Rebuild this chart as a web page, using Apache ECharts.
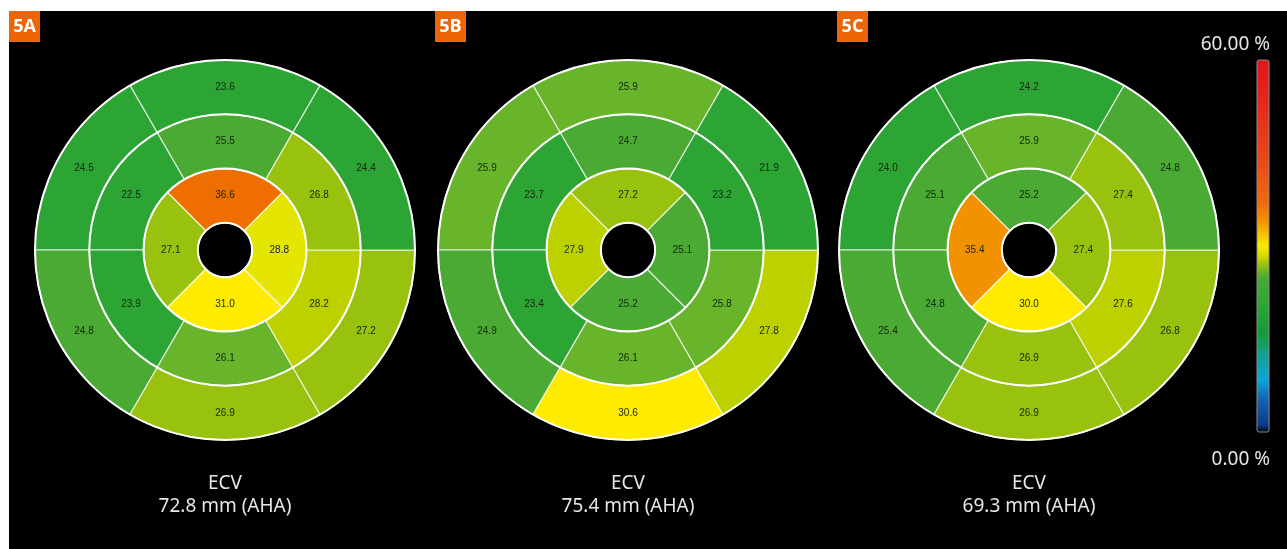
<!DOCTYPE html>
<html>
<head>
<meta charset="utf-8">
<title>ECV bullseye maps</title>
<script src="https://cdn.jsdelivr.net/npm/echarts@6/dist/echarts.min.js"></script>
<style>
  html, body { margin: 0; padding: 0; background: #fff; width: 1287px; height: 549px; overflow: hidden; }
  #chart { position: absolute; left: 9px; top: 11px; width: 1278px; height: 538px; background: #000; }
</style>
</head>
<body>
<div id="chart"></div>
<script>
// Panel tags and captions
const panelTags = ['5A', '5B', '5C'];
const captionTitle = 'ECV';
const captionLevels = ['72.8 mm (AHA)', '75.4 mm (AHA)', '69.3 mm (AHA)'];

// ECV per segment (%), AHA order, counter-clockwise from the anterior segment at the top.
// basal / mid: anterior, anteroseptal, inferoseptal, inferior, inferolateral, anterolateral
// apical: anterior, septal, inferior, lateral
const basalA  = [23.6, 24.5, 24.8, 26.9, 27.2, 24.4];
const midA    = [25.5, 22.5, 23.9, 26.1, 28.2, 26.8];
const apicalA = [36.6, 27.1, 31.0, 28.8];

const basalB  = [25.9, 25.9, 24.9, 30.6, 27.8, 21.9];
const midB    = [24.7, 23.7, 23.4, 26.1, 25.8, 23.2];
const apicalB = [27.2, 27.9, 25.2, 25.1];

const basalC  = [24.2, 24.0, 25.4, 26.9, 26.8, 24.8];
const midC    = [25.9, 25.1, 24.8, 26.9, 27.6, 27.4];
const apicalC = [25.2, 35.4, 30.0, 27.4];

// Colour scale
const scaleMin = 0;
const scaleMax = 60;
const scaleLabels = ['60.00 %', '0.00 %'];

const panels = [
  { basal: basalA, mid: midA, apical: apicalA },
  { basal: basalB, mid: midB, apical: apicalB },
  { basal: basalC, mid: midC, apical: apicalC }
];

// Radius units: hole 0..0.5, apical 0.5..1.5, mid 1.5..2.5, basal 2.5..3.5
const RING_CENTER = { apical: 1, mid: 2, basal: 3 };
const RING_HALF = 0.5;
const RADIUS_MAX = 3.5;
const ringEdges = [0.5, 1.5, 2.5, 3.5];

const centersX = [216, 619, 1020];
const centerY = 239;
const outerRadius = 190;

function ringData(values, ring) {
  const n = values.length;
  return values.map((v, k) => [RING_CENTER[ring], k * 360 / n, v, 360 / n]);
}

function renderSegment(params, api) {
  const cs = params.coordSys;
  const rc = api.value(0), ac = api.value(1), v = api.value(2), span = api.value(3);
  const radiusPx = r => { const p = api.coord([r, 0]); return Math.hypot(p[0] - cs.cx, p[1] - cs.cy); };
  const anglePx = a => { const p = api.coord([RADIUS_MAX, a]); return Math.atan2(p[1] - cs.cy, p[0] - cs.cx); };
  const s0 = anglePx(ac - span / 2), s1 = anglePx(ac + span / 2);
  let d = s1 - s0;
  while (d > Math.PI) d -= 2 * Math.PI;
  while (d < -Math.PI) d += 2 * Math.PI;
  const start = d < 0 ? s1 : s0;
  const end = start + Math.abs(d);
  const c = api.coord([rc, ac]);
  return {
    type: 'group',
    children: [
      {
        type: 'sector',
        shape: { cx: cs.cx, cy: cs.cy, r0: radiusPx(rc - RING_HALF), r: radiusPx(rc + RING_HALF),
                 startAngle: start, endAngle: end, clockwise: true },
        style: { fill: api.visual('color'), stroke: 'rgba(255,255,255,0.8)', lineWidth: 1.2 }
      },
      {
        type: 'text',
        x: c[0], y: c[1],
        style: { text: v.toFixed(1), fill: '#12280e', font: '10px "Liberation Sans", Arial, sans-serif',
                 align: 'center', verticalAlign: 'middle' }
      }
    ]
  };
}

function renderRingEdge(params, api) {
  const cs = params.coordSys;
  const p = api.coord([api.value(0), 0]);
  const r = Math.hypot(p[0] - cs.cx, p[1] - cs.cy);
  return {
    type: 'circle',
    shape: { cx: cs.cx, cy: cs.cy, r: r },
    style: { fill: 'none', stroke: '#ffffff', lineWidth: 2 }
  };
}

const polar = [], angleAxis = [], radiusAxis = [], series = [], title = [];
panels.forEach((p, i) => {
  polar.push({ center: [centersX[i], centerY], radius: outerRadius });
  angleAxis.push({ polarIndex: i, type: 'value', min: 0, max: 360, startAngle: 90, clockwise: false, show: false });
  radiusAxis.push({ polarIndex: i, type: 'value', min: 0, max: RADIUS_MAX, show: false });
  title.push({
    text: captionTitle + '\n' + captionLevels[i],
    left: centersX[i], top: 461, padding: 0, textAlign: 'center',
    textStyle: { color: '#e6e6e6', fontSize: 19, fontWeight: 'normal', lineHeight: 23, fontFamily: '"Noto Sans", "Open Sans", sans-serif' }
  });
});
panels.forEach((p, i) => {
  series.push({
    type: 'custom', coordinateSystem: 'polar', polarIndex: i,
    encode: { radius: 0, angle: 1 },
    renderItem: renderSegment,
    data: [...ringData(p.apical, 'apical'), ...ringData(p.mid, 'mid'), ...ringData(p.basal, 'basal')],
    silent: true, z: 2
  });
});
panels.forEach((p, i) => {
  series.push({
    type: 'custom', coordinateSystem: 'polar', polarIndex: i,
    encode: { radius: 0, angle: 1 },
    renderItem: renderRingEdge,
    data: ringEdges.map(r => [r, 0]),
    silent: true, z: 3
  });
});

// Colour bar gradient (value -> colour)
const barStops = [
  [0, '#000000'], [1.2, '#0b3a8a'], [5.5, '#1565b5'], [8.5, '#0aa6da'], [12.5, '#15a090'],
  [16, '#17983a'], [20, '#2aa535'], [25, '#4aaa34'], [27, '#98c20e'], [28.5, '#d6dc00'],
  [30, '#ffeb00'], [34, '#f39200'], [37, '#ee6a10'], [45, '#e84418'], [53, '#e6281c'], [60, '#e3141c']
];
const barX = 1248, barY = 49, barW = 12, barH = 372;

const graphic = [];
const tagX = [0, 426, 828];
panelTags.forEach((t, i) => {
  graphic.push({
    type: 'group', x: tagX[i], y: 0,
    children: [
      { type: 'rect', shape: { x: 0, y: 0, width: 31, height: 31 }, style: { fill: '#ec6608' } },
      { type: 'text', x: 15.5, y: 16, style: { text: t, fill: '#ffffff', font: 'bold 18px "Open Sans", "Noto Sans", sans-serif', align: 'center', verticalAlign: 'middle' } }
    ]
  });
});
graphic.push({
  type: 'rect',
  shape: { x: barX, y: barY, width: barW, height: barH, r: 2 },
  style: {
    fill: new echarts.graphic.LinearGradient(0, 0, 0, 1,
      barStops.map(s => ({ offset: 1 - (s[0] - scaleMin) / (scaleMax - scaleMin), color: s[1] })).reverse()),
    stroke: '#8c8c8c', lineWidth: 1
  }
});
graphic.push({ type: 'text', x: 1261, y: 34, style: { text: scaleLabels[0], fill: '#e6e6e6', font: '19px "Noto Sans", "Open Sans", sans-serif', align: 'right', verticalAlign: 'middle' } });
graphic.push({ type: 'text', x: 1261, y: 449, style: { text: scaleLabels[1], fill: '#e6e6e6', font: '19px "Noto Sans", "Open Sans", sans-serif', align: 'right', verticalAlign: 'middle' } });

const chart = echarts.init(document.getElementById('chart'), null, { renderer: 'canvas' });
chart.setOption({
  backgroundColor: '#000',
  animation: false,
  title: title,
  polar: polar,
  angleAxis: angleAxis,
  radiusAxis: radiusAxis,
  visualMap: {
    type: 'piecewise', show: false, dimension: 2, seriesIndex: [0, 1, 2],
    pieces: [
      { lt: 24.6, color: '#2ca535' },
      { gte: 24.6, lt: 25.7, color: '#4aaa34' },
      { gte: 25.7, lt: 26.5, color: '#68b42a' },
      { gte: 26.5, lt: 27.5, color: '#98c20e' },
      { gte: 27.5, lt: 28.5, color: '#bed100' },
      { gte: 28.5, lt: 29.5, color: '#e4e500' },
      { gte: 29.5, lt: 33, color: '#ffeb00' },
      { gte: 33, lt: 36, color: '#f39200' },
      { gte: 36, color: '#ee6f00' }
    ]
  },
  graphic: graphic,
  series: series
});
</script>
</body>
</html>
